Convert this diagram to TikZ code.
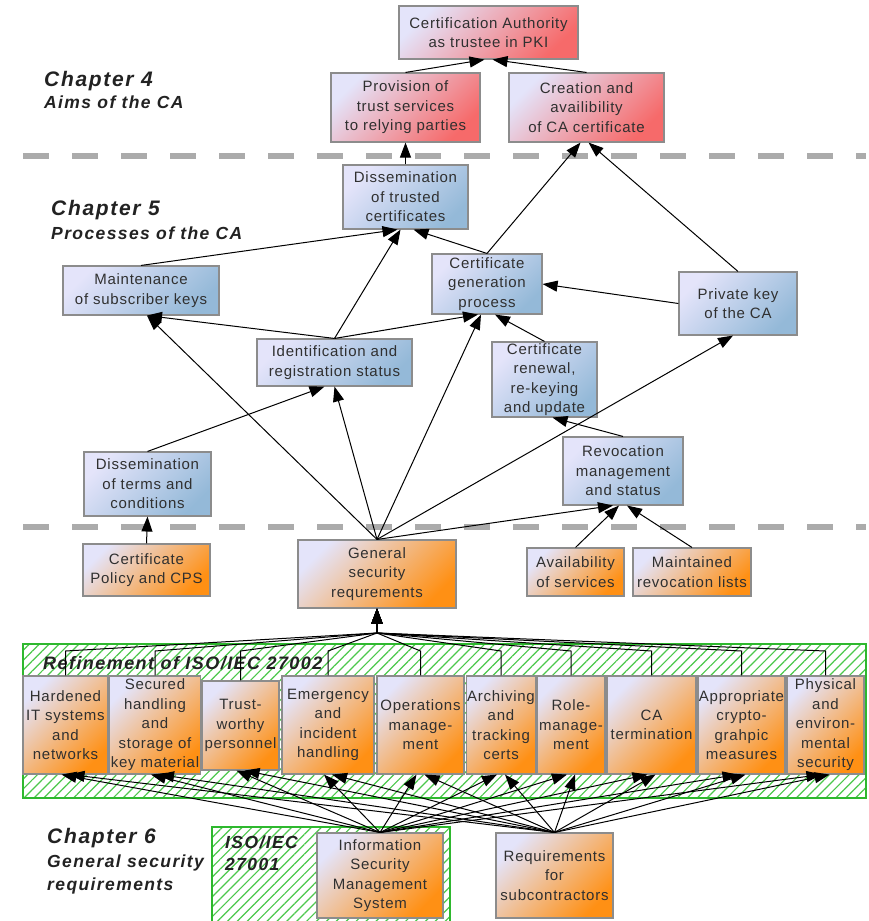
\documentclass[tikz,border=0pt]{standalone}
\usepackage{fontspec}
\setmainfont{Liberation Sans}[LetterSpace=5]
\newfontfamily\headfont{Liberation Sans}[LetterSpace=8]
\usetikzlibrary{arrows.meta,patterns.meta,calc}
\definecolor{lav}{HTML}{E4E4FA}
\definecolor{redc}{HTML}{F66A6A}
\definecolor{bluec}{HTML}{94B9D8}
\definecolor{orc}{HTML}{FF9014}
\definecolor{boxgray}{HTML}{8C8C8C}
\definecolor{txt}{HTML}{303030}
\definecolor{headc}{HTML}{222222}
\definecolor{sepgray}{HTML}{ABABAB}
\definecolor{grn}{HTML}{2EB82E}
\definecolor{hatchgrn}{HTML}{4CC84C}
\tikzset{
  box/.style={draw=boxgray, line width=1.1pt, align=center, inner xsep=1pt, inner ysep=1pt,
    font=\fontsize{15}{19.5}\selectfont, text=txt},
  redbox/.style={box, top color=lav, bottom color=redc, shading angle=45},
  bluebox/.style={box, top color=lav, bottom color=bluec, shading angle=45},
  orbox/.style={box, top color=lav, bottom color=orc, shading angle=45},
  arr/.style={-{Triangle[length=15pt,width=11pt]}, line width=1pt, black},
  sepline/.style={draw=sepgray, line width=5.5pt, dash pattern=on 26pt off 23pt},
  hatchbox/.style={draw=grn, line width=2.8pt,
    pattern={Lines[angle=45,distance=7pt,line width=1.2pt]}, pattern color=hatchgrn},
  headA/.style={anchor=base west, inner sep=0pt, text=headc,
    font=\headfont\bfseries\itshape\fontsize{21}{24}\selectfont},
  headB/.style={anchor=base west, inner sep=0pt, text=headc,
    font=\headfont\bfseries\itshape\fontsize{17.5}{22}\selectfont},
}
\begin{document}
\begin{tikzpicture}[x=1pt,y=-1pt]
\useasboundingbox (0,0) rectangle (869,921);
\fill[white] (0,0) rectangle (869,921);

% hatched regions
\path[hatchbox] (23,644) rectangle (866,798);
\path[hatchbox] (212,827) rectangle (450,930);
\node[headB, anchor=base west, font=\headfont\bfseries\itshape\fontsize{18}{22}\selectfont] (refl) at (43,669) {Refinement of ISO/IEC 27002};
\node[headB, anchor=base west, align=left] (isol) at (225,870) {ISO/IEC\\[-0.5pt]27001};

% separators
\draw[sepline] (23,156) -- (866,156);
\draw[sepline] (23,527) -- (866,527);

% chapter headings
\node[headA] (c4) at (44,86) {Chapter 4};
\node[headB] (c4s) at (44,108) {Aims of the CA};
\node[headA] (c5) at (51,215) {Chapter 5};
\node[headB] (c5s) at (51,239) {Processes of the CA};
\node[headA] (c6) at (47,843) {Chapter 6};
\node[headB] (c6s) at (47,867) {General security};
\node[headB] (c6t) at (47,890) {requirements};

% chapter 4 boxes
\node[redbox, minimum width=179pt, minimum height=53pt] (ca) at (488.5,32.5) {Certification Authority\\as trustee in PKI};
\node[redbox, minimum width=149pt, minimum height=69pt] (prov) at (405.5,107.5) {Provision of\\trust services\\to relying parties};
\node[redbox, minimum width=155pt, minimum height=69pt] (crea) at (586.5,107.5) {Creation and\\availibility\\of CA certificate};

% chapter 5 boxes
\node[bluebox, minimum width=125pt, minimum height=64pt] (dtc) at (405.5,197) {Dissemination\\of trusted\\certificates};
\node[bluebox, minimum width=156pt, minimum height=49pt] (maint) at (141,290.5) {Maintenance\\of subscriber keys};
\node[bluebox, minimum width=110pt, minimum height=60pt] (cgp) at (487,284) {Certificate\\generation\\process};
\node[bluebox, minimum width=118pt, minimum height=63pt] (pk) at (738,303.5) {Private key\\of the CA};
\node[bluebox, minimum width=155pt, minimum height=47pt] (ident) at (334.5,362.5) {Identification and\\registration status};
\node[bluebox, minimum width=127pt, minimum height=64pt] (dtac) at (147.5,484) {Dissemination\\of terms and\\conditions};
\node[bluebox, minimum width=105pt, minimum height=75pt] (crr) at (544.5,379.5) {Certificate\\renewal,\\re-keying\\and update};
\node[bluebox, minimum width=120pt, minimum height=68pt] (rev) at (623,471) {Revocation\\management\\and status};

% orange boxes under chapter 5
\node[orbox, minimum width=127pt, minimum height=52pt] (cps) at (146.5,570) {Certificate\\Policy and CPS};
\node[orbox, minimum width=158pt, minimum height=68pt] (gsr) at (377,574) {General\\security\\requrements};
\node[orbox, minimum width=97pt, minimum height=48pt] (avail) at (575.5,572) {Availability\\of services};
\node[orbox, minimum width=118pt, minimum height=48pt] (maintd) at (692,572) {Maintained\\revocation lists};

% refinement row
\node[orbox, minimum width=85pt, minimum height=98pt] (hard) at (65.5,725) {Hardened\\IT systems\\and\\networks};
\node[orbox, minimum width=88pt, minimum height=98pt] (sec) at (155,725) {Secured\\handling\\and\\storage of\\key material};
\node[orbox, minimum width=77pt, minimum height=89pt] (trust) at (240.5,725.5) {Trust-\\worthy\\personnel};
\node[orbox, minimum width=92pt, minimum height=98pt] (emer) at (328,725) {Emergency\\and\\incident\\handling};
\node[orbox, minimum width=87pt, minimum height=98pt] (ops) at (420.5,725) {Operations\\manage-\\ment};
\node[orbox, minimum width=66pt, minimum height=98pt] (arch) at (501,725) {Archiving\\and\\tracking\\certs};
\node[orbox, minimum width=68pt, minimum height=98pt] (role) at (571,725) {Role-\\manage-\\ment};
\node[orbox, minimum width=89pt, minimum height=98pt] (cat) at (651.5,725) {CA\\termination};
\node[orbox, minimum width=87pt, minimum height=98pt] (appr) at (741.5,725) {Appropriate\\crypto-\\grahpic\\measures};
\node[orbox, minimum width=77pt, minimum height=98pt] (phys) at (825.5,725) {Physical\\and\\environ-\\mental\\security};

% chapter 6 boxes
\node[orbox, minimum width=126pt, minimum height=85pt] (isms) at (380,875.5) {Information\\Security\\Management\\System};
\node[orbox, minimum width=117pt, minimum height=85pt] (req) at (554.5,875.5) {Requirements\\for\\subcontractors};

% connectors chapter 4
\draw[arr] (prov.north) -- ([xshift=-4pt]ca.south);
\draw[arr] (crea.north) -- ([xshift=4pt]ca.south);
\draw[arr] (dtc.north) -- (prov.south);
\draw[arr] (cgp.north) -- ([xshift=-6pt]crea.south);
\draw[arr] (pk.north) -- ([xshift=2pt]crea.south);

% connectors chapter 5
\draw[arr] (maint.north) -- ([xshift=-8pt]dtc.south);
\draw[arr] (ident.north) -- ([xshift=-5pt]dtc.south);
\draw[arr] (cgp.north) -- ([xshift=8pt]dtc.south);
\draw[arr] (ident.north) -- ([xshift=6pt]maint.south);
\draw[arr] (gsr.north) -- ([xshift=6pt]maint.south);
\draw[arr] (ident.north) -- ([xshift=-9pt]cgp.south);
\draw[arr] (gsr.north) -- ([xshift=-6pt]cgp.south);
\draw[arr] (crr.north) -- ([xshift=8pt]cgp.south);
\draw[arr] (pk.west) -- (cgp.east);
\draw[arr] (gsr.north) -- ([xshift=-5pt]pk.south);
\draw[arr] (dtac.north) -- ([xshift=-10pt]ident.south);
\draw[arr] (gsr.north) -- (ident.south);
\draw[arr] (rev.north) -- ([xshift=8pt]crr.south);
\draw[arr] (gsr.north) -- ([xshift=-10pt]rev.south);
\draw[arr] (avail.north) -- ([xshift=-4pt]rev.south);
\draw[arr] (maintd.north) -- ([xshift=4pt]rev.south);
\draw[arr] (cps.north) -- (dtac.south);

% refinement fan into general security requirements
\coordinate (fan) at (377,633);
\coordinate (elb) at (0,651);
\foreach \b in {hard,sec,trust,emer,ops,arch,role,cat,appr,phys} {
  \draw[arr] (\b.north) -- (\b.north |- elb) -- (fan) -- (gsr.south);
}

% chapter 6 fans
\foreach \b in {hard,sec,trust,emer,ops,arch,role,cat,appr,phys} {
  \draw[arr] (isms.north) -- ([xshift=-4pt]\b.south);
  \draw[arr] (req.north) -- ([xshift=4pt]\b.south);
}
\end{tikzpicture}
\end{document}
